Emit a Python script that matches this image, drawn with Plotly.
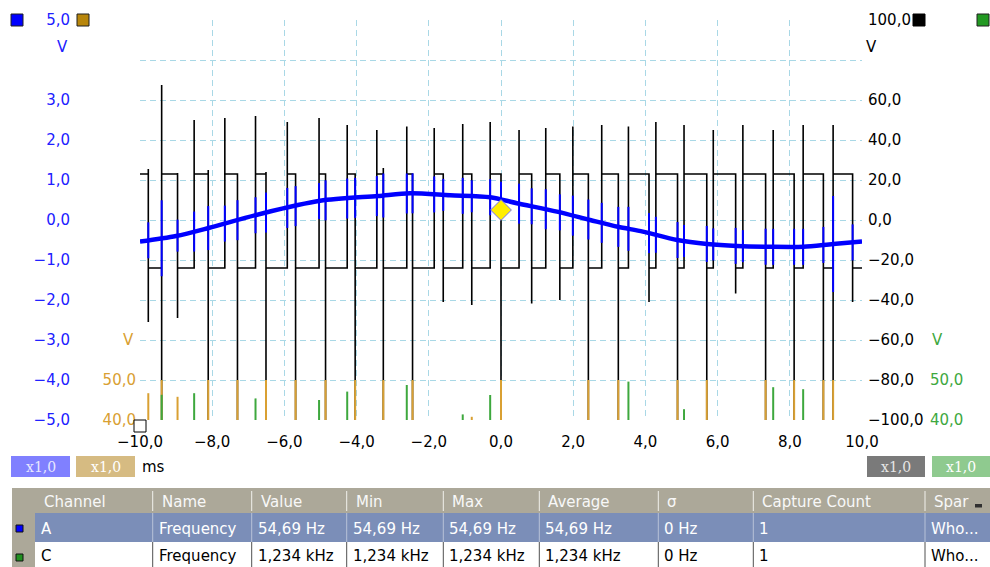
import numpy as np
import plotly.graph_objects as go

W, H = 990, 567

# ---------------- data ----------------
x_ticks = [-10, -8, -6, -4, -2, 0, 2, 4, 6, 8, 10]
x_ticktext = ["\u221210,0", "\u22128,0", "\u22126,0", "\u22124,0", "\u22122,0", "0,0",
              "2,0", "4,0", "6,0", "8,0", "10,0"]

# channel A (blue, left axis, V)
blue_t = [-10.0, -9.0, -8.1, -6.59, -5.01, -3.41, -2.52, -1.41, -0.30, 0.44, 1.55,
          2.47, 3.24, 3.93, 4.88, 5.71, 6.54, 7.45, 8.37, 9.20, 10.0]
blue_v = [-0.54, -0.40, -0.20, 0.17, 0.48, 0.60, 0.67, 0.62, 0.57, 0.42, 0.21,
          0.0, -0.17, -0.29, -0.50, -0.60, -0.65, -0.67, -0.67, -0.60, -0.54]
blue_ticks = [-5, -4, -3, -2, -1, 0, 1, 2, 3, 5]
blue_ticktext = ["\u22125,0", "\u22124,0", "\u22123,0", "\u22122,0", "\u22121,0", "0,0",
                 "1,0", "2,0", "3,0", "5,0"]

# channel D (black, right axis, V): edge times and spike extremes
black_high = 23.0
black_low = -24.0
edge_t = [-9.77, -9.40, -8.96, -8.50, -8.11, -7.65, -7.30, -6.80, -6.51, -5.92,
          -5.69, -5.04, -4.86, -4.26, -4.04, -3.44, -3.26, -2.61, -2.45, -1.85,
          -1.60, -1.06, -0.81, -0.30, 0.00, 0.50, 0.85, 1.24, 1.63, 1.99,
          2.42, 2.79, 3.25, 3.53, 4.10, 4.29, 4.89, 5.07, 5.70, 5.88,
          6.50, 6.70, 7.33, 7.54, 8.12, 8.37, 8.93, 9.20, 9.74]
spike_hi = [25.5, 67.5, 23.5, 50, 25, 51, 23, 52, 24, 49,
            23, 51, 23, 47.5, 23, 45, 26, 46.7, 23, 46,
            23, 48, 23, 49, 23, 45, 23, 46, 23, 46.7,
            23, 47.5, 23, 46.7, 23, 49, 23, 47.5, 23, 45,
            23, 47.5, 23, 45, 23, 47.5, 23, 47.5, 23]
spike_lo = [-51, -100, -49, -24, -100, -24, -100, -24, -100, -24,
            -100, -24, -100, -24, -100, -24, -100, -24, -100, -24,
            -41, -24, -42.5, -24, -100, -24, -41.7, -24, -40, -24,
            -100, -24, -100, -24, -41, -24, -100, -24, -100, -24,
            -36.7, -24, -100, -24, -100, -24, -100, -100, -41]
# blue glitch half heights at each edge (V)
blue_glitch = [0.45, 0.95, 0.4, 0.5, 0.55, 0.45, 0.5, 0.45, 0.5, 0.5,
               0.5, 0.45, 0.5, 0.5, 0.5, 0.5, 0.55, 0.5, 0.5, 0.45,
               0.4, 0.45, 0.4, 0.45, 0.45, 0.5, 0.45, 0.5, 0.45, 0.5,
               0.5, 0.5, 0.5, 0.55, 0.5, 0.45, 0.45, 0.4, 0.45, 0.4,
               0.45, 0.4, 0.45, 0.45, 0.45, 0.45, 0.45, 1.2, 0.45]
right_ticks = [-100, -80, -60, -40, -20, 0, 20, 40, 60, 80, 100]
right_ticktext = ["\u2212100,0", "\u221280,0", "\u221260,0", "\u221240,0", "\u221220,0",
                  "0,0", "20,0", "40,0", "60,0", "", "100,0"]

# channel B (orange) spikes: time, top value (V)
orange_t = [-9.77, -9.40, -8.96, -8.11, -7.30, -6.51, -5.69, -4.86, -4.04, -3.26,
            -2.45, -0.81, 0.00, 2.42, 3.25, 4.89, 5.70, 7.33, 8.12, 8.93, 9.20]
orange_top = [46.7, 50, 45.8, 50, 50, 50, 50, 50, 50, 50,
              50, 40.8, 50, 50, 50, 50, 50, 50, 50, 50, 50]
# channel C (green) spikes
green_t = [-9.40, -8.50, -6.80, -5.04, -4.26, -2.61, -1.06, -0.30, 3.53, 5.07, 7.54, 8.37]
green_top = [46.3, 46.7, 45.4, 45.0, 47.1, 48.75, 41.4, 46.25, 49.6, 42.7, 48.2, 47.7]
bc_ticks = [40, 50]
bc_ticktext = ["40,0", "50,0"]

trigger_t = [0.0]
trigger_v = [0.25]

# measurement table
table_cols = ["Channel", "Name", "Value", "Min", "Max", "Average", "\u03c3", "Capture Count", "Spar"]
row_a = ["A", "Frequency", "54,69 Hz", "54,69 Hz", "54,69 Hz", "54,69 Hz", "0 Hz", "1", "Who..."]
row_c = ["C", "Frequency", "1,234 kHz", "1,234 kHz", "1,234 kHz", "1,234 kHz", "0 Hz", "1", "Who..."]
col_x = [35, 152.7, 251.7, 346.7, 443.3, 539.3, 658.3, 753.3, 925]

# ---------------- helpers ----------------
def px(x):
    return x / W

def py(y):
    return 1 - y / H

FONT = "DejaVu Sans"
BLUE = "#0000ff"
ORANGE = "#d9a032"
GREEN = "#3ea83e"
GRID = "#a9d8e6"

fig = go.Figure()

# black trace
bx, by = [-10.0], [black_high]
level = black_high
for t, hi, lo in zip(edge_t, spike_hi, spike_lo):
    new = black_low if level == black_high else black_high
    bx += [t, t, t, t]
    by += [level, lo, hi, new]
    level = new
bx.append(10.0)
by.append(level)
fig.add_trace(go.Scatter(x=bx, y=by, mode="lines", line=dict(color="#000000", width=1.6),
                         yaxis="y", hoverinfo="skip"))

# orange spikes
ox, oy = [], []
for t, v in zip(orange_t, orange_top):
    ox += [t, t, None]
    oy += [39, v, None]
fig.add_trace(go.Scatter(x=ox, y=oy, mode="lines", line=dict(color=ORANGE, width=2),
                         yaxis="y2", hoverinfo="skip"))

# green spikes
gx, gy = [], []
for t, v in zip(green_t, green_top):
    gx += [t, t, None]
    gy += [39, v, None]
fig.add_trace(go.Scatter(x=gx, y=gy, mode="lines", line=dict(color=GREEN, width=2),
                         yaxis="y3", hoverinfo="skip"))

# blue glitches
centers = np.interp(edge_t, blue_t, blue_v)
qx, qy = [], []
for t, c, g in zip(edge_t, centers, blue_glitch):
    qx += [t, t, None]
    qy += [c - g, c + g, None]
fig.add_trace(go.Scatter(x=qx, y=qy, mode="lines", line=dict(color=BLUE, width=2),
                         yaxis="y4", hoverinfo="skip"))
# blue waveform
fig.add_trace(go.Scatter(x=blue_t, y=blue_v, mode="lines",
                         line=dict(color=BLUE, width=4.5, shape="spline", smoothing=0.8),
                         yaxis="y4", hoverinfo="skip"))
# trigger marker
fig.add_trace(go.Scatter(x=trigger_t, y=trigger_v, mode="markers",
                         marker=dict(symbol="diamond", size=16, color="#ffee00",
                                     line=dict(color="#7070ff", width=1)),
                         yaxis="y4", hoverinfo="skip"))

xdom = [px(140), px(862)]
ydom = [py(420), py(20)]

fig.update_layout(
    width=W, height=H,
    margin=dict(l=0, r=0, t=0, b=0, pad=0, autoexpand=False),
    paper_bgcolor="white", plot_bgcolor="white",
    showlegend=False,
    xaxis=dict(domain=xdom, range=[-10, 10], tickvals=x_ticks, ticktext=x_ticktext,
               showgrid=True, gridcolor=GRID, griddash="6px,4px", gridwidth=1,
               zeroline=False, showline=False, ticks="", ticklabelstandoff=11, automargin=False,
               tickfont=dict(family=FONT, size=15, color="#000000"), fixedrange=True),
    yaxis=dict(domain=ydom, range=[-100, 100], side="right", anchor="x",
               tickvals=right_ticks, ticktext=right_ticktext, automargin=False,
               showgrid=True, gridcolor=GRID, griddash="6px,4px", gridwidth=1,
               zeroline=False, showline=False, ticks="", ticklabelstandoff=5,
               tickfont=dict(family=FONT, size=15, color="#000000")),
    yaxis2=dict(domain=ydom, range=[40, 140], overlaying="y", side="left", anchor="free",
                position=px(136), tickvals=bc_ticks, ticktext=bc_ticktext, automargin=False,
                showgrid=False, zeroline=False, showline=False, ticks="",
                tickfont=dict(family=FONT, size=15, color=ORANGE)),
    yaxis3=dict(domain=ydom, range=[40, 140], overlaying="y", side="right", anchor="free",
                position=px(929), tickvals=bc_ticks, ticktext=bc_ticktext, automargin=False,
                showgrid=False, zeroline=False, showline=False, ticks="",
                tickfont=dict(family=FONT, size=15, color=GREEN)),
    yaxis4=dict(domain=ydom, range=[-5, 5], overlaying="y", side="left", anchor="free",
                position=px(70), tickvals=blue_ticks, ticktext=blue_ticktext, automargin=False,
                showgrid=False, zeroline=False, showline=False, ticks="",
                tickfont=dict(family=FONT, size=15, color="#2020ff")),
)

shapes = []
annotations = []

def rect(x0, y0, x1, y1, fill, line=None, lw=1):
    shapes.append(dict(type="rect", xref="paper", yref="paper",
                       x0=px(x0), x1=px(x1), y0=py(y1), y1=py(y0),
                       fillcolor=fill, line=dict(color=line or fill, width=lw if line else 0),
                       layer="above"))

def vline(x, y0, y1, color):
    shapes.append(dict(type="line", xref="paper", yref="paper",
                       x0=px(x), x1=px(x), y0=py(y1), y1=py(y0),
                       line=dict(color=color, width=1), layer="above"))

def text(x, y, s, color="#000000", size=15, xanchor="center", family=FONT):
    annotations.append(dict(xref="paper", yref="paper", x=px(x), y=py(y), text=s,
                            showarrow=False, xanchor=xanchor, yanchor="middle",
                            font=dict(family=family, size=size, color=color)))

# channel squares at top
rect(11, 14, 23, 26, BLUE, "#202020")
rect(77, 14, 89, 26, "#b8860b", "#202020")
rect(913, 14, 925, 26, "#000000", "#000000")
rect(977, 14, 989, 26, "#229922", "#202020")
# origin marker
rect(134, 420, 146, 432, "#ffffff", "#000000")

# unit labels
text(62.5, 47, "V", "#2020ff")
text(871, 47, "V", "#000000")
text(128, 340, "V", ORANGE)
text(937, 340, "V", GREEN)
text(153, 467, "ms", "#000000")

# scale badges
for (x0, x1, fill, tc) in [(11, 70, "#8080ff", "#e8e8ff"), (76, 135, "#d6bb82", "#ffffff"),
                           (867, 925, "#7a7a7a", "#e6e6e6"), (932, 990, "#8fca8f", "#ffffff")]:
    rect(x0, 456, x1, 477, fill)
    text((x0 + x1) / 2, 466.5, "x1,0", tc, size=14, family="DejaVu Serif")

# measurement table
rect(12, 488, 990, 513, "#aca899")
rect(12, 513, 35, 567, "#aca899")
rect(35, 513, 990, 542, "#7b8eb8")
rect(35, 542, 990, 567, "#ffffff")
for i, cx in enumerate(col_x):
    if i > 0:
        vline(cx, 491, 511, "#f2f1ec")
        vline(cx, 513, 542, "#b8c2d8")
        vline(cx, 542, 567, "#505050")
    text(cx + 7, 502, table_cols[i], "#f8f8f8", xanchor="left")
    text(cx + 4, 528.5, row_a[i], "#ffffff", xanchor="left")
    text(cx + 4, 556, row_c[i], "#000000", xanchor="left")
rect(975, 504, 982, 507.5, "#303030")
rect(16, 525, 23, 532, BLUE, "#101010")
rect(16, 554, 23, 561, "#209020", "#101010")

fig.update_layout(shapes=shapes, annotations=annotations)
fig.write_html("out.html", config={"displayModeBar": False},
               post_script="document.body.style.margin='0';document.body.style.overflow='hidden';")
